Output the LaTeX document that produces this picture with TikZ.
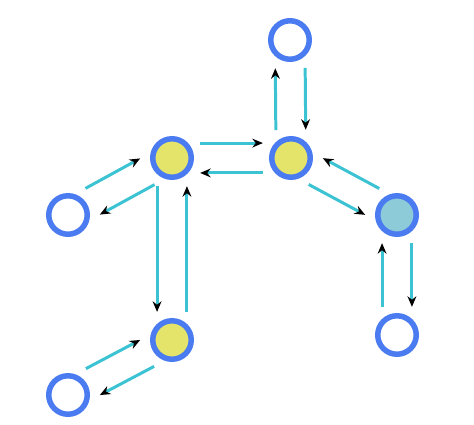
\documentclass[tikz,border=0pt]{standalone}
\usepackage{tikz}
\usetikzlibrary{positioning,calc,arrows.meta}
\definecolor{ringblue}{HTML}{4A7BF0}
\definecolor{hubyellow}{HTML}{E5E46A}
\definecolor{innercyan}{HTML}{8DCBD9}
\definecolor{linkcyan}{HTML}{3CC3D3}
\tikzset{vertex/.style={circle, draw=ringblue, line width=0.11cm, minimum size=0.77cm, inner sep=0pt, fill=white}}
\tikzset{hub/.style={vertex, fill=hubyellow}}
\tikzset{inner/.style={vertex, fill=innercyan}}
\tikzset{link/.style={draw=linkcyan, line width=1.7pt, -{Stealth[black,length=6pt,width=5pt]}, shorten <=16pt, shorten >=16pt}}

\begin{document}
\begin{tikzpicture}[x=0.02cm, y=-0.02cm]
            \useasboundingbox (0,0) rectangle (474,424);
            \node[vertex] (topleaf)   at (290, 40) {};
            \node[hub]    (hubright)  at (291,158) {};
            \node[hub]    (hubleft)   at (172,158) {};
            \node[vertex] (leftleaf)  at ( 68,215) {};
            \node[inner]  (innernode) at (397,215) {};
            \node[vertex] (rightleaf) at (397,335) {};
            \node[hub]    (lowhub)    at (172,340) {};
            \node[vertex] (lowleaf)   at ( 68,395) {};

            \foreach \a/\b/\p/\q in {topleaf/hubright/90/-90, hubright/topleaf/90/-90,
                                     hubleft/hubright/90/-90, hubright/hubleft/90/-90,
                                     hubleft/leftleaf/90/-90, leftleaf/hubleft/90/-90,
                                     hubleft/lowhub/-90/90, lowhub/hubleft/-90/90,
                                     hubright/innernode/-90/90, innernode/hubright/-90/90,
                                     innernode/rightleaf/90/-90, rightleaf/innernode/90/-90,
                                     lowhub/lowleaf/90/-90, lowleaf/lowhub/90/-90} {
                \draw[link] ($(\a)!8.5pt!\p:(\b)$) -- ($(\b)!8.5pt!\q:(\a)$);
            }
        \end{tikzpicture}
\end{document}
